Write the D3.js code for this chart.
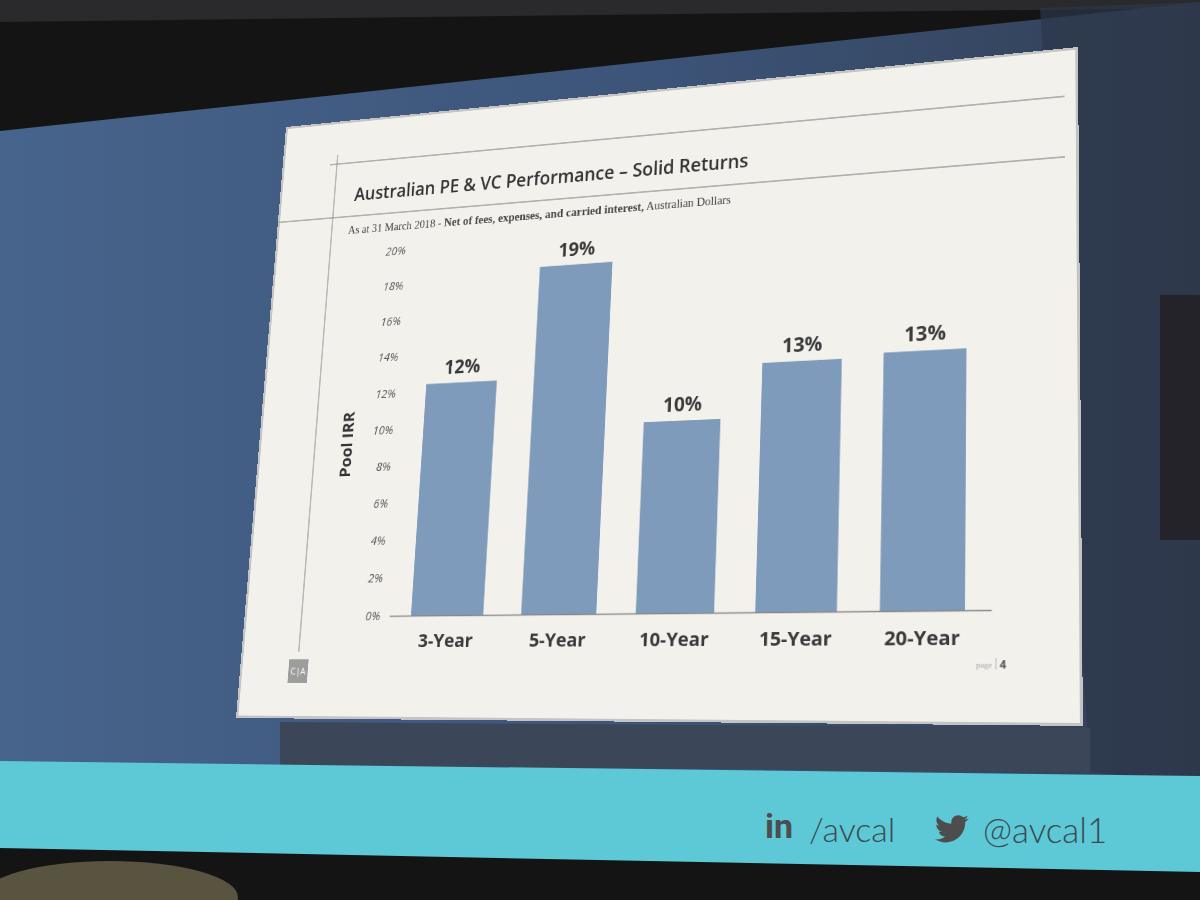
<!DOCTYPE html>
<html>
<head>
<meta charset="utf-8">
<script src="https://cdn.jsdelivr.net/npm/d3@7"></script>
<style>
html, body { margin: 0; padding: 0; background: #121212; overflow: hidden; }
#scene { position: absolute; left: 0; top: 0; }
#slide { position: absolute; left: 0; top: 0; width: 1000px; height: 750px; transform-origin: 0 0; }
</style>
</head>
<body>
<script>
var categories = ["3-Year", "5-Year", "10-Year", "15-Year", "20-Year"],
    poolIRR = [12.4, 18.5, 9.8, 12.6, 12.8],
    valueLabels = ["12%", "19%", "10%", "13%", "13%"],
    yTicks = [0, 2, 4, 6, 8, 10, 12, 14, 16, 18, 20];

var width = 1200,
    height = 900,
    slideW = 1000,
    slideH = 750,
    corners = [[286, 127], [1078, 47], [1083, 726], [236, 718]]; // TL, TR, BR, BL of the slide in the photo

// ---- room / screen behind the slide
var scene = d3.select("body").append("svg")
    .attr("id", "scene")
    .attr("width", width)
    .attr("height", height);

var defs = scene.append("defs");
var grad = defs.append("linearGradient").attr("id", "screenGrad")
    .attr("x1", "0").attr("x2", "1").attr("y1", "0").attr("y2", "0");
grad.append("stop").attr("offset", "0").attr("stop-color", "#47648c");
grad.append("stop").attr("offset", "0.55").attr("stop-color", "#3c5478");
grad.append("stop").attr("offset", "1").attr("stop-color", "#323f55");

scene.append("rect").attr("width", width).attr("height", height).attr("fill", "#141414");
scene.append("polygon").attr("points", "0,0 1200,0 1200,8 0,22").attr("fill", "#2a2a2c");
scene.append("polygon").attr("points", "0,131 1200,2 1200,782 0,764").attr("fill", "url(#screenGrad)");
// building picture on the right of the screen
scene.append("polygon").attr("points", "1040,8 1200,2 1200,782 1090,772").attr("fill", "#2c3649").attr("opacity", 0.7);
scene.append("rect").attr("x", 1160).attr("y", 295).attr("width", 40).attr("height", 245).attr("fill", "#232329");
scene.append("polygon").attr("points", "280,722 1090,728 1090,772 280,766").attr("fill", "#3b4658");

// cyan banner
scene.append("polygon").attr("points", "0,761 1200,776 1200,872 0,848").attr("fill", "#5dc8d6");
scene.append("ellipse").attr("cx", 110).attr("cy", 897).attr("rx", 128).attr("ry", 36).attr("fill", "#59543f");

scene.append("text").attr("x", 765).attr("y", 838)
    .style("font-family", "Roboto, 'Open Sans', sans-serif").style("font-weight", "bold")
    .style("font-size", "34px").style("fill", "#4d4d4d").text("in");
scene.append("text").attr("x", 809).attr("y", 842)
    .style("font-family", "Lato, 'Open Sans', sans-serif").style("font-weight", 300)
    .style("font-size", "34px").style("fill", "#3b4a52").text("/avcal");
scene.append("path")
    .attr("d", "M23.954 4.569c-.885.389-1.83.654-2.825.775 1.014-.611 1.794-1.574 2.163-2.723-.951.555-2.005.959-3.127 1.184-.896-.959-2.173-1.559-3.591-1.559-2.717 0-4.92 2.203-4.92 4.917 0 .39.045.765.127 1.124C7.691 8.094 4.066 6.13 1.64 3.161c-.427.722-.666 1.561-.666 2.475 0 1.71.87 3.213 2.188 4.096-.807-.026-1.566-.248-2.228-.616v.061c0 2.385 1.693 4.374 3.946 4.827-.413.111-.849.171-1.296.171-.314 0-.615-.03-.916-.086.631 1.953 2.445 3.377 4.604 3.417-1.68 1.319-3.809 2.105-6.102 2.105-.39 0-.779-.023-1.17-.067 2.189 1.394 4.768 2.209 7.557 2.209 9.054 0 13.999-7.496 13.999-13.986 0-.209 0-.42-.015-.63.961-.689 1.8-1.62 2.46-2.377z")
    .attr("transform", "translate(935,812) scale(1.4)")
    .attr("fill", "#4d4d4d");
scene.append("text").attr("x", 983).attr("y", 843)
    .style("font-family", "Lato, 'Open Sans', sans-serif").style("font-weight", 300)
    .style("font-size", "35px").style("fill", "#3b4a52").text("@avcal1");

// ---- the slide, drawn flat then projected onto the photo's quad
function squareToQuad(q) {
    var x0 = q[0][0], y0 = q[0][1], x1 = q[1][0], y1 = q[1][1],
        x2 = q[2][0], y2 = q[2][1], x3 = q[3][0], y3 = q[3][1];
    var dx1 = x1 - x2, dx2 = x3 - x2, sx = x0 - x1 + x2 - x3,
        dy1 = y1 - y2, dy2 = y3 - y2, sy = y0 - y1 + y2 - y3;
    var det = dx1 * dy2 - dx2 * dy1;
    var g = (sx * dy2 - dx2 * sy) / det,
        h = (dx1 * sy - sx * dy1) / det;
    return { a: x1 - x0 + g * x1, b: x3 - x0 + h * x3, c: x0,
             d: y1 - y0 + g * y1, e: y3 - y0 + h * y3, f: y0, g: g, h: h };
}
var m = squareToQuad(corners);
var matrix = [m.a / slideW, m.d / slideW, 0, m.g / slideW,
              m.b / slideH, m.e / slideH, 0, m.h / slideH,
              0, 0, 1, 0,
              m.c, m.f, 0, 1];

var slideDiv = d3.select("body").append("div")
    .attr("id", "slide")
    .style("transform", "matrix3d(" + matrix.join(",") + ")");

var svg = slideDiv.append("svg")
    .attr("width", slideW)
    .attr("height", slideH);

svg.append("rect")
    .attr("width", slideW).attr("height", slideH)
    .attr("fill", "#f2f1ec")
    .attr("stroke", "#c4c4c4").attr("stroke-width", 6);

// frame lines of the template
svg.append("line").attr("x1", 78).attr("x2", 78).attr("y1", 45).attr("y2", 671)
    .attr("stroke", "#9b9b9b").attr("stroke-width", 1.3);
svg.append("line").attr("x1", 68).attr("x2", 985).attr("y1", 57).attr("y2", 57)
    .attr("stroke", "#9b9b9b").attr("stroke-width", 1.3);
svg.append("line").attr("x1", 0).attr("x2", 985).attr("y1", 128).attr("y2", 128)
    .attr("stroke", "#9b9b9b").attr("stroke-width", 1.3);

svg.append("text")
    .attr("x", 106).attr("y", 108)
    .style("font-family", "'Open Sans', sans-serif")
    .style("font-size", "22.5px")
    .style("font-weight", 600)
    .style("fill", "#333")
    .text("Australian PE & VC Performance \u2013 Solid Returns");

var sub = svg.append("text")
    .attr("x", 101).attr("y", 151)
    .style("font-family", "'Liberation Serif', 'DejaVu Serif', serif")
    .style("font-size", "14.2px")
    .style("fill", "#444");
sub.append("tspan").text("As at 31 March 2018 -  ");
sub.append("tspan").style("font-weight", "bold").style("font-size", "14.6px")
    .text("Net of fees, expenses, and carried interest,");
sub.append("tspan").text(" Australian Dollars");

// ---- chart
var baseY = 629;

var x = d3.scaleBand()
    .domain(categories)
    .range([195, 905])
    .paddingInner(0.34)
    .paddingOuter(0.2);

var y = d3.scaleLinear()
    .domain([0, 20])
    .range([baseY, 178]);

var yAxis = svg.append("g")
    .attr("transform", "translate(183,0)")
    .call(d3.axisLeft(y).tickValues(yTicks).tickFormat(function(d) { return d + "%"; }).tickSize(0).tickPadding(0));
yAxis.select(".domain").remove();
yAxis.selectAll("text")
    .style("font-family", "'Open Sans', sans-serif")
    .style("font-style", "italic")
    .style("font-size", "14.5px")
    .style("fill", "#595959");

svg.append("g").attr("id", "bars")
    .selectAll("rect")
    .data(poolIRR)
    .enter()
    .append("rect")
        .attr("x", function(d, i) { return x(categories[i]); })
        .attr("y", function(d) { return y(d); })
        .attr("width", x.bandwidth())
        .attr("height", function(d) { return y(0) - y(d); })
        .style("fill", "#7f9bbb");

svg.append("g").attr("id", "bar-labels")
    .selectAll("text")
    .data(poolIRR)
    .enter()
    .append("text")
        .attr("x", function(d, i) { return x(categories[i]) + x.bandwidth() / 2; })
        .attr("y", function(d) { return y(d) - 11; })
        .attr("text-anchor", "middle")
        .style("font-family", "'Open Sans', sans-serif")
        .style("font-weight", "bold")
        .style("font-size", "23px")
        .style("fill", "#3a3a3a")
        .text(function(d, i) { return valueLabels[i]; });

var xAxis = svg.append("g")
    .attr("transform", "translate(0," + baseY + ")")
    .call(d3.axisBottom(x).tickSize(0).tickPadding(21));
xAxis.select(".domain")
    .attr("stroke", "#888")
    .attr("stroke-width", 1.6);
xAxis.selectAll("text")
    .style("font-family", "'Open Sans', sans-serif")
    .style("font-weight", "bold")
    .style("font-size", "22px")
    .style("fill", "#3a3a3a");

svg.append("text")
    .attr("transform", "translate(122,420) rotate(-90)")
    .attr("text-anchor", "middle")
    .attr("dy", "0.35em")
    .style("font-family", "'Open Sans', sans-serif")
    .style("font-weight", "bold")
    .style("font-size", "20px")
    .style("fill", "#333")
    .text("Pool IRR");

// logo and page number
svg.append("rect").attr("x", 66).attr("y", 680).attr("width", 26).attr("height", 28).attr("fill", "#9d9d9d");
svg.append("text").attr("x", 79).attr("y", 698).attr("text-anchor", "middle")
    .style("font-family", "'Open Sans', sans-serif").style("font-size", "11px").style("fill", "#fff")
    .text("C|A");
svg.append("text").attr("x", 906).attr("y", 690).attr("text-anchor", "end")
    .style("font-family", "'Liberation Serif', serif").style("font-size", "9px").style("fill", "#aaa")
    .text("page");
svg.append("line").attr("x1", 910).attr("x2", 910).attr("y1", 680).attr("y2", 692)
    .attr("stroke", "#bbb").attr("stroke-width", 1);
svg.append("text").attr("x", 914).attr("y", 691)
    .style("font-family", "'Open Sans', sans-serif").style("font-weight", "bold").style("font-size", "12px").style("fill", "#555")
    .text("4");
</script>
</body>
</html>
